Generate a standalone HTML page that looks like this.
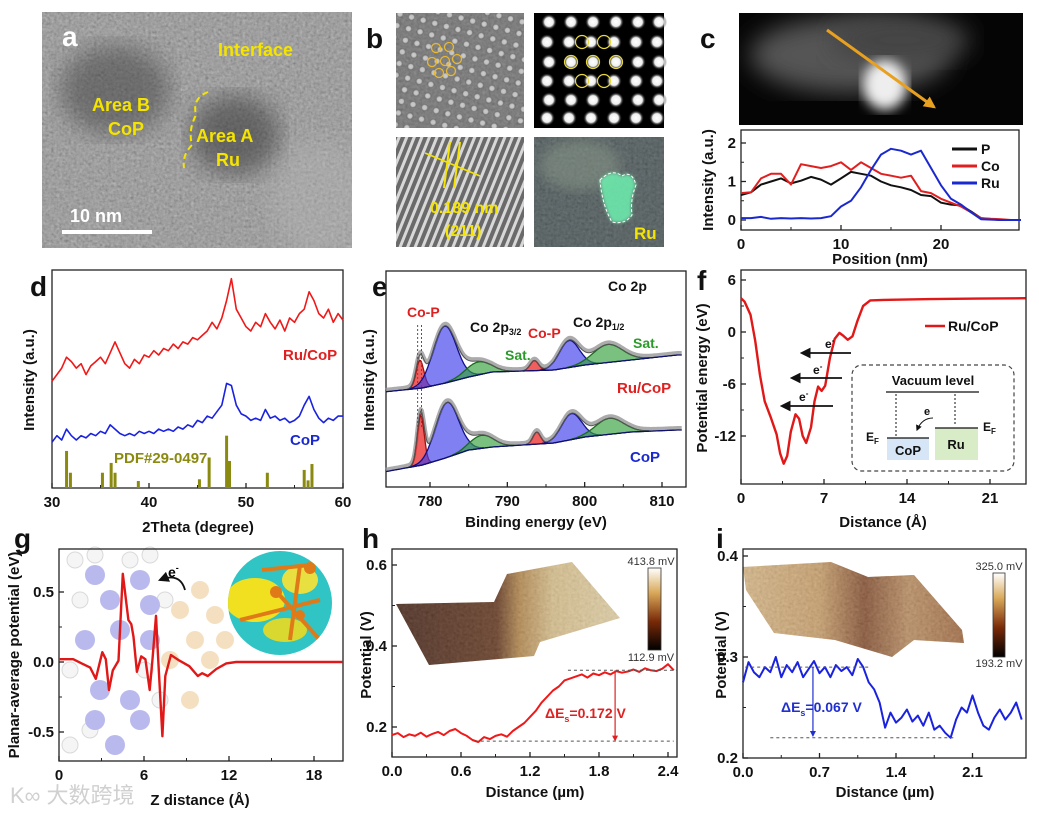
<!DOCTYPE html>
<html><head><meta charset="utf-8"><title>Ru/CoP characterization figure</title>
<style>
html,body{margin:0;padding:0;background:#fff;}
svg{display:block;font-family:"Liberation Sans","Noto Sans CJK SC",sans-serif;}
.tk{font-size:15px;font-weight:bold;fill:#111;}
.tt{font-size:15px;font-weight:bold;fill:#111;}
.pl{font-size:28px;font-weight:bold;fill:#111;}
</style></head>
<body>
<svg id="fig" xmlns="http://www.w3.org/2000/svg" width="1039" height="813" viewBox="0 0 1039 813">
<defs>
<filter id="noise" x="0" y="0" width="100%" height="100%"><feTurbulence type="fractalNoise" baseFrequency="0.35" numOctaves="2" seed="3"/><feColorMatrix type="matrix" values="0.33 0.33 0.33 0 0 0.33 0.33 0.33 0 0 0.33 0.33 0.33 0 0 0 0 0 0 1"/><feComposite in2="SourceGraphic" operator="in"/></filter>
<filter id="blur6"><feGaussianBlur stdDeviation="6"/></filter>
<filter id="blur12"><feGaussianBlur stdDeviation="12"/></filter>
<filter id="blur2"><feGaussianBlur stdDeviation="1.5"/></filter>
<radialGradient id="dot"><stop offset="0" stop-color="#fff"/><stop offset="0.55" stop-color="#eee"/><stop offset="1" stop-color="#000" stop-opacity="0"/></radialGradient>
<pattern id="dotsA" width="12" height="12" patternUnits="userSpaceOnUse" patternTransform="rotate(15)"><circle cx="6" cy="6" r="4" fill="url(#dot)" opacity="0.6"/></pattern>
<pattern id="stripes" width="7" height="7" patternUnits="userSpaceOnUse" patternTransform="rotate(22)"><rect width="7" height="7" fill="#6a6a6a"/><rect width="3" height="7" fill="#d8d8d8"/></pattern>
<linearGradient id="hsurf" x1="0" x2="1" y1="0" y2="0"><stop offset="0" stop-color="#3a1608"/><stop offset="0.45" stop-color="#5a2a10"/><stop offset="0.55" stop-color="#b08040"/><stop offset="0.7" stop-color="#d8bd85"/><stop offset="1" stop-color="#e2cfa0"/></linearGradient>
<linearGradient id="isurf" x1="0" x2="1" y1="0" y2="0"><stop offset="0" stop-color="#d9b37a"/><stop offset="0.35" stop-color="#c8975a"/><stop offset="0.55" stop-color="#7a3c18"/><stop offset="0.75" stop-color="#b88450"/><stop offset="1" stop-color="#9a5a2a"/></linearGradient>
<linearGradient id="cbar" x1="0" x2="0" y1="0" y2="1"><stop offset="0" stop-color="#fff"/><stop offset="0.3" stop-color="#d9a95a"/><stop offset="0.65" stop-color="#7a2a08"/><stop offset="1" stop-color="#000"/></linearGradient>
<clipPath id="gInsetClip"><circle cx="280" cy="603" r="52"/></clipPath>
<clipPath id="aClip"><rect x="42" y="12" width="310" height="236"/></clipPath>
<clipPath id="cClip"><rect x="739" y="13" width="284" height="112"/></clipPath>
<clipPath id="b4Clip"><rect x="534" y="137" width="130" height="110"/></clipPath>
<marker id="ah" viewBox="0 0 10 10" refX="8" refY="5" markerWidth="6" markerHeight="6" orient="auto"><path d="M0,0 L10,5 L0,10 z" fill="#111"/></marker>
<marker id="ahO" viewBox="0 0 10 10" refX="8" refY="5" markerWidth="4" markerHeight="4" orient="auto"><path d="M0,0 L10,5 L0,10 z" fill="#e8a020"/></marker>
<marker id="ahR" viewBox="0 0 10 10" refX="8" refY="5" markerWidth="5" markerHeight="5" orient="auto"><path d="M0,0 L10,5 L0,10 z" fill="#e02020"/></marker>
<marker id="ahB" viewBox="0 0 10 10" refX="8" refY="5" markerWidth="5" markerHeight="5" orient="auto"><path d="M0,0 L10,5 L0,10 z" fill="#2030d0"/></marker>
</defs>

<!-- Panel a -->
<g>
<g clip-path="url(#aClip)">
<rect x="42" y="12" width="310" height="236" fill="#7d7d7d"/>
<rect x="42" y="12" width="310" height="236" filter="url(#noise)" opacity="0.55"/>
<ellipse cx="115" cy="90" rx="55" ry="45" fill="#333" opacity="0.45" filter="url(#blur12)"/>
<ellipse cx="235" cy="135" rx="45" ry="40" fill="#2a2a2a" opacity="0.5" filter="url(#blur12)"/>
<ellipse cx="320" cy="200" rx="50" ry="60" fill="#bbb" opacity="0.35" filter="url(#blur12)"/>
</g>
<path d="M208,92 Q192,98 196,115 Q188,130 192,145 Q182,155 184,168" fill="none" stroke="#f5e400" stroke-width="2" stroke-dasharray="6,4"/>
<text x="218" y="56" font-size="18" font-weight="bold" fill="#f5e400">Interface</text>
<text x="92" y="111" font-size="18" font-weight="bold" fill="#f5e400">Area B</text>
<text x="108" y="135" font-size="18" font-weight="bold" fill="#f5e400">CoP</text>
<text x="196" y="142" font-size="18" font-weight="bold" fill="#f5e400">Area A</text>
<text x="216" y="166" font-size="18" font-weight="bold" fill="#f5e400">Ru</text>
<line x1="62" y1="232" x2="152" y2="232" stroke="#fff" stroke-width="4"/>
<text x="70" y="222" font-size="18" font-weight="bold" fill="#fff">10 nm</text>
<text x="62" y="46" font-size="28" font-weight="bold" fill="#fff">a</text>
</g>

<!-- Panel b -->
<g>
<text x="366" y="48" class="pl">b</text>
<rect x="396" y="13" width="128" height="115" fill="#5e5e5e"/>
<rect x="396" y="13" width="128" height="115" filter="url(#noise)" opacity="0.35"/>
<rect x="396" y="13" width="128" height="115" fill="url(#dotsA)"/>
<g id="ringsB1" fill="none" stroke="#e8b830" stroke-width="1.3"></g>
<rect x="534" y="13" width="130" height="115" fill="#000"/>
<g id="dotsB2"></g>
<rect x="396" y="137" width="128" height="110" fill="url(#stripes)"/>
<line x1="425" y1="153" x2="480" y2="176" stroke="#f5e400" stroke-width="1.5"/>
<line x1="450" y1="142" x2="444" y2="188" stroke="#f5e400" stroke-width="2"/>
<line x1="460" y1="142" x2="454" y2="188" stroke="#f5e400" stroke-width="2"/>
<text x="430" y="213" font-size="16" font-weight="bold" fill="#f5e400">0.189 nm</text>
<text x="445" y="236" font-size="16" font-weight="bold" fill="#f5e400">(211)</text>
<g clip-path="url(#b4Clip)">
<rect x="534" y="137" width="130" height="110" fill="#2c3a3c"/>
<rect x="534" y="137" width="130" height="110" filter="url(#noise)" opacity="0.35"/>
<ellipse cx="580" cy="165" rx="40" ry="25" fill="#8a9a8a" opacity="0.5" filter="url(#blur6)"/>
</g>
<path d="M600,180 Q612,168 622,176 Q632,170 636,185 Q630,200 632,215 Q625,225 612,222 Q602,205 600,180z" fill="#6ef0b0" opacity="0.85" filter="url(#blur2)"/>
<path d="M600,180 Q612,168 622,176 Q632,170 636,185 Q630,200 632,215 Q625,225 612,222 Q602,205 600,180z" fill="none" stroke="#fff" stroke-dasharray="3,2" stroke-width="1"/>
<text x="634" y="239" font-size="17" font-weight="bold" fill="#f5e400">Ru</text>
</g>

<!-- Panel c image -->
<g>
<text x="700" y="48" class="pl">c</text>
<g clip-path="url(#cClip)">
<rect x="739" y="13" width="284" height="112" fill="#050505"/>
<ellipse cx="850" cy="55" rx="100" ry="38" fill="#555" filter="url(#blur12)"/>
<ellipse cx="900" cy="40" rx="70" ry="25" fill="#444" filter="url(#blur12)"/>
<ellipse cx="885" cy="85" rx="22" ry="25" fill="#eee" filter="url(#blur6)"/>
</g>
<line x1="827" y1="30" x2="934" y2="107" stroke="#e8a020" stroke-width="3" marker-end="url(#ahO)"/>
</g>

<text x="30" y="296" class="pl">d</text>
<text x="372" y="296" class="pl">e</text>
<text x="697" y="290" class="pl">f</text>
<text x="14" y="548" class="pl">g</text>
<text x="362" y="548" class="pl">h</text>
<text x="716" y="548" class="pl">i</text>

<!-- axis titles -->
<text class="tt" font-size="14" transform="translate(713,180) rotate(-90)" text-anchor="middle">Intensity (a.u.)</text>
<text class="tt" x="880" y="264" text-anchor="middle">Position (nm)</text>
<text class="tt" transform="translate(34,380) rotate(-90)" text-anchor="middle">Intensity (a.u.)</text>
<text class="tt" x="198" y="532" text-anchor="middle">2Theta (degree)</text>
<text class="tt" transform="translate(374,380) rotate(-90)" text-anchor="middle">Intensity (a.u.)</text>
<text class="tt" x="536" y="527" text-anchor="middle">Binding energy (eV)</text>
<text class="tt" transform="translate(707,378) rotate(-90)" text-anchor="middle">Potential energy (eV)</text>
<text class="tt" x="883" y="527" text-anchor="middle">Distance (Å)</text>
<text class="tt" transform="translate(19,655) rotate(-90)" text-anchor="middle">Planar-average potential (eV)</text>
<text class="tt" x="200" y="805" text-anchor="middle">Z distance (Å)</text>
<text class="tt" transform="translate(371,655) rotate(-90)" text-anchor="middle">Potential (V)</text>
<text class="tt" x="535" y="797" text-anchor="middle">Distance (µm)</text>
<text class="tt" transform="translate(726,655) rotate(-90)" text-anchor="middle">Potential (V)</text>
<text class="tt" x="885" y="797" text-anchor="middle">Distance (µm)</text>

<!-- panel g background molecule -->
<g id="gMol" opacity="0.55"></g>
<g clip-path="url(#gInsetClip)">
<rect x="228" y="551" width="104" height="104" fill="#30c4c4"/>
<ellipse cx="255" cy="600" rx="30" ry="22" fill="#f0e020"/>
<ellipse cx="300" cy="580" rx="18" ry="14" fill="#e8e040"/>
<ellipse cx="285" cy="630" rx="22" ry="12" fill="#d8d830"/>
<line x1="262" y1="570" x2="310" y2="565" stroke="#e07a18" stroke-width="4"/>
<line x1="275" y1="590" x2="320" y2="640" stroke="#e07a18" stroke-width="4"/>
<line x1="300" y1="565" x2="290" y2="640" stroke="#e07a18" stroke-width="4"/>
<line x1="240" y1="620" x2="320" y2="600" stroke="#e07a18" stroke-width="4"/>
<circle cx="276" cy="592" r="6" fill="#e07a18"/><circle cx="310" cy="568" r="6" fill="#e07a18"/><circle cx="300" cy="615" r="5" fill="#e07a18"/>
</g>
<path d="M185,590 Q180,572 160,580" fill="none" stroke="#111" stroke-width="1.8" marker-end="url(#ah)"/>
<text x="168" y="577" font-size="14" font-weight="bold">e<tspan font-size="9" dy="-6">-</tspan></text>

<!-- h surface -->
<g>
<polygon points="396,604 494,602 507,574 572,562 620,618 540,642 534,656 429,665" fill="url(#hsurf)"/>
<polygon points="396,604 494,602 507,574 572,562 620,618 540,642 534,656 429,665" filter="url(#noise)" opacity="0.25"/>
<rect x="648" y="568" width="13" height="82" fill="url(#cbar)" stroke="#333" stroke-width="0.8"/>
<text x="651" y="565" font-size="11" text-anchor="middle" fill="#333">413.8 mV</text>
<text x="651" y="661" font-size="11" text-anchor="middle" fill="#333">112.9 mV</text>
</g>
<!-- i surface -->
<g>
<polygon points="746,590 743,567 831,562 868,577 914,575 962,630 964,643 914,640 892,657 835,640 774,633" fill="url(#isurf)"/>
<polygon points="746,590 743,567 831,562 868,577 914,575 962,630 964,643 914,640 892,657 835,640 774,633" filter="url(#noise)" opacity="0.3"/>
<rect x="993" y="573" width="12" height="84" fill="url(#cbar)" stroke="#333" stroke-width="0.8"/>
<text x="999" y="570" font-size="11" text-anchor="middle" fill="#333">325.0 mV</text>
<text x="999" y="667" font-size="11" text-anchor="middle" fill="#333">193.2 mV</text>
</g>

<text x="10" y="803" font-size="22" fill="#d0d0d0" font-family="'Liberation Sans','Noto Sans CJK SC',sans-serif">K∞ 大数跨境</text>

<g id="plots"></g>
</svg>

<script>
// ---------- Panel c data ----------
const cX = [0,1,2,3,4,5,6,7,8,9,10,11,12,13,14,15,16,17,18,19,20,21,22,23,24,25,26,27,28];
const cP = [0.65,0.72,0.92,1.0,1.08,0.95,1.02,1.12,1.05,0.92,1.08,1.25,1.2,1.15,1.0,0.9,0.85,0.78,0.65,0.62,0.45,0.4,0.38,0.22,0.05,0.02,0.0,0.0,0.0];
const cCo = [0.7,0.72,1.08,1.2,1.2,0.92,1.45,1.4,1.35,1.4,1.5,1.3,1.5,1.35,1.2,1.15,1.1,1.15,0.75,0.7,0.55,0.45,0.35,0.2,0.05,0.03,0.02,0.0,0.0];
const cRu = [0.05,0.05,0.08,0.03,0.05,0.04,0.05,0.04,0.05,0.1,0.35,0.5,0.85,1.3,1.7,1.85,1.8,1.7,1.8,1.35,0.9,0.55,0.4,0.2,0.02,0.01,0.0,0.0,0.0];
const cXTicks = [0,10,20];
const cYTicks = [0,1,2];
// ---------- Panel d data ----------
const dX = [30,30.5,31,31.5,32,32.5,33,33.5,34,34.5,35,35.5,36,36.5,37,37.5,38,38.5,39,39.5,40,40.5,41,41.5,42,42.5,43,43.5,44,44.5,45,45.5,46,46.5,47,47.5,48,48.5,49,49.5,50,50.5,51,51.5,52,52.5,53,53.5,54,54.5,55,55.5,56,56.5,57,57.5,58,58.5,59,59.5,60];
const dRuCoP = [49,52,55,60,58,55,57,52,56,58,60,57,62,67,62,57,55,59,57,61,60,63,61,64,63,66,64,67,66,69,68,70,72,76,73,78,86,96,82,78,74,72,76,74,80,76,73,77,72,78,76,80,82,90,86,80,78,82,76,80,77];
const dCoP = [21,24,22,27,24,22,24,23,25,24,26,25,29,27,25,24,25,24,26,25,26,25,27,26,27,26,28,27,29,28,31,30,33,32,35,38,48,47,38,34,33,31,32,31,36,32,33,31,32,30,31,33,38,42,36,32,30,32,31,33,33];
const dRefPos = [31.5,31.9,35.2,36.1,36.5,38.9,45.2,46.2,48.0,48.3,52.2,56.0,56.4,56.8];
const dRefInt = [17,7,7,11.5,7,3.2,4,14,24,12.4,7,8.3,3.5,11];
const dXTicks = [30,40,50,60];
// ---------- Panel e data ----------
const eBaseX = [774,779,782,785,788,792,796,800,806,812];
const eTopBase = [95,99,104,110,115,116,117,122,127,132];
const eBotBase = [15,22,29,37,40,42,44,50,55,57];
const eTopCenters = [778.7,781.9,786.2,793.5,798.0,803.0];
const eTopHeights = [28,57,13,10,27,18];
const eTopWidths = [0.5,1.5,1.6,0.55,1.3,1.9];
const eBotCenters = [778.8,782.2,786.7,793.8,798.3,803.2];
const eBotHeights = [50,55,13,12,26,16];
const eBotWidths = [0.45,1.5,1.5,0.5,1.3,1.8];
const ePeakKinds = ['r','b','g','r','b','g'];
const eXTicks = [780,790,800,810];
// ---------- Panel f data ----------
const fX = [0,0.3,0.8,1.2,1.6,2,2.5,3,3.3,3.6,3.9,4.2,4.6,4.9,5.2,5.5,5.9,6.2,6.5,6.8,7.1,7.5,7.9,8.3,8.6,9.0,9.4,9.8,10.3,10.9,12,16,20,24];
const fV = [3.9,3.5,2,-1,-5,-8,-9.8,-11.8,-14,-15.2,-14.3,-11.5,-9.5,-10,-12,-12.8,-11,-8,-6.3,-6.8,-6.2,-3,-0.8,-0.1,-0.4,-0.9,-0.5,1.2,3.0,3.65,3.7,3.8,3.85,3.9];
const fXTicks = [0,7,14,21];
const fYTicks = [6,0,-6,-12];
// ---------- Panel g data ----------
const gX = [0,1.0,1.6,2.2,2.6,3.06,3.3,3.53,3.8,4.2,4.5,4.9,5.1,5.26,5.5,5.8,6.1,6.4,6.6,6.85,7.0,7.3,7.5,7.9,8.5,9.2,9.8,10.1,10.5,11.1,11.8,12.5,20];
const gV = [0.02,0.02,-0.01,-0.04,-0.12,0.07,0.02,-0.2,-0.06,0.01,0.63,0.3,0.27,0.18,-0.07,0.04,0.02,-0.2,0.02,0.33,0.02,-0.53,-0.1,0.05,0.01,-0.03,-0.1,-0.08,-0.1,-0.05,-0.01,0,0];
const gXTicks = [0,6,12,18];
const gYTicks = [0.5,0.0,-0.5];
// ---------- Panel h data ----------
const hX = [0,0.05,0.1,0.15,0.2,0.25,0.3,0.35,0.4,0.45,0.5,0.55,0.6,0.65,0.7,0.75,0.8,0.85,0.9,0.95,1.0,1.05,1.1,1.15,1.2,1.25,1.3,1.35,1.4,1.45,1.5,1.55,1.6,1.65,1.7,1.75,1.8,1.85,1.9,1.95,2.0,2.05,2.1,2.15,2.2,2.25,2.3,2.35,2.4,2.45];
const hV = [0.18,0.185,0.175,0.182,0.178,0.186,0.176,0.183,0.188,0.18,0.19,0.195,0.185,0.178,0.168,0.163,0.175,0.17,0.178,0.182,0.176,0.19,0.2,0.21,0.225,0.24,0.26,0.275,0.29,0.3,0.315,0.32,0.325,0.33,0.322,0.332,0.328,0.335,0.33,0.338,0.334,0.337,0.342,0.336,0.345,0.34,0.338,0.344,0.355,0.34];
const hXTicks = [0.0,0.6,1.2,1.8,2.4];
const hYTicks = [0.2,0.4,0.6];
// ---------- Panel i data ----------
const iX = [0,0.05,0.1,0.15,0.2,0.25,0.3,0.35,0.4,0.45,0.5,0.55,0.6,0.65,0.7,0.75,0.8,0.85,0.9,0.95,1.0,1.05,1.1,1.15,1.2,1.25,1.3,1.35,1.4,1.45,1.5,1.55,1.6,1.65,1.7,1.75,1.8,1.85,1.9,1.95,2.0,2.05,2.1,2.15,2.2,2.25,2.3,2.35,2.4,2.45,2.5,2.55];
const iV = [0.275,0.295,0.285,0.28,0.29,0.285,0.3,0.28,0.292,0.285,0.295,0.28,0.288,0.296,0.284,0.29,0.28,0.292,0.286,0.29,0.282,0.298,0.29,0.275,0.268,0.255,0.23,0.245,0.235,0.24,0.248,0.236,0.242,0.232,0.245,0.228,0.232,0.225,0.22,0.238,0.25,0.245,0.262,0.245,0.232,0.228,0.24,0.248,0.238,0.245,0.255,0.238];
const iXTicks = [0.0,0.7,1.4,2.1];
const iYTicks = [0.2,0.3,0.4];

const NS = 'http://www.w3.org/2000/svg';
const root = document.getElementById('plots');
function mk(tag, attrs, parent){
  const el = document.createElementNS(NS, tag);
  for (const k in attrs) el.setAttribute(k, attrs[k]);
  (parent||root).appendChild(el);
  return el;
}
function lin(d0,d1,r0,r1){ return v => r0 + (v-d0)*(r1-r0)/(d1-d0); }
function pts(xs, ys, sx, sy){ return xs.map((x,i)=> sx(x).toFixed(1)+','+sy(ys[i]).toFixed(1)).join(' '); }
function fmt(v, dec){ return dec>0 ? v.toFixed(dec) : String(v); }
function line(pstr, color, w, name){
  const el = mk('polyline', {points:pstr, fill:'none', stroke:color, 'stroke-width':w, 'stroke-linejoin':'round'});
  
  
  return el;
}
function axes(prefix, x0,y0,x1,y1, sx, xt, xdec, sy, yt, ydec){
  const fr = mk('rect', {x:x0, y:y0, width:x1-x0, height:y1-y0, fill:'none', stroke:'#222', 'stroke-width':1.3});
  
  
  xt.forEach((v,i)=>{
    const x = sx(v);
    mk('line', {x1:x, y1:y1, x2:x, y2:y1-5, stroke:'#222', 'stroke-width':1.3});
    if (i < xt.length-1) { const xm = (x + sx(xt[i+1]))/2; mk('line', {x1:xm, y1:y1, x2:xm, y2:y1-3, stroke:'#222', 'stroke-width':1}); }
    const t = mk('text', {x:x, y:y1+19, 'text-anchor':'middle', class:'tk'});
    t.textContent = fmt(v, xdec);
    
    
  });
  if (yt) yt.forEach((v,i)=>{
    const y = sy(v);
    mk('line', {x1:x0, y1:y, x2:x0+5, y2:y, stroke:'#222', 'stroke-width':1.3});
    if (i < yt.length-1) { const ym = (y + sy(yt[i+1]))/2; mk('line', {x1:x0, y1:ym, x2:x0+3, y2:ym, stroke:'#222', 'stroke-width':1}); }
    const t = mk('text', {x:x0-5, y:y+5, 'text-anchor':'end', class:'tk'});
    t.textContent = fmt(v, ydec);
    
    
  });
}
function txt(x,y,s,color,size,name,anchor){
  const t = mk('text', {x:x, y:y, fill:color, 'font-size':size, 'font-weight':'bold', 'text-anchor':anchor||'start'});
  t.textContent = s;
  
  
  return t;
}

// ---- Panel b decorations ----
(function(){
  const r1 = document.getElementById('ringsB1');
  [[436,48],[449,47],[432,62],[445,61],[457,59],[439,73],[451,71]].forEach(p=>{ mk('circle',{cx:p[0],cy:p[1],r:4.5},r1); });
  const d2 = document.getElementById('dotsB2');
  const cols=[549,571,593,616,638,659], rows=[22,42,62,81,100,118];
  rows.forEach((y,ri)=>cols.forEach(x=>{ mk('circle',{cx:x+(ri%2?-2:0),cy:y,r:8,fill:'url(#dot)'},d2); }));
  [[582,42],[604,42],[571,62],[593,62],[616,62],[582,81],[604,81]].forEach(p=>{ mk('circle',{cx:p[0],cy:p[1],r:6.5,fill:'none',stroke:'#e8d840','stroke-width':1.2},d2); });
})();

// ---- Panel c ----
{
  const sx = lin(0,28,741,1021), sy = lin(0,2,220,143);
  axes('c', 741,130,1019,230, sx, cXTicks, 0, sy, cYTicks, 0);
  line(pts(cX,cP,sx,sy), '#111', 2, 'c-series-p');
  line(pts(cX,cCo,sx,sy), '#e02020', 2, 'c-series-co');
  line(pts(cX,cRu,sx,sy), '#1a28d0', 2, 'c-series-ru');
  [['P','#111',149],['Co','#e02020',166],['Ru','#1a28d0',183]].forEach(l=>{
    const ln = mk('line',{x1:952,y1:l[2],x2:977,y2:l[2],stroke:l[1],'stroke-width':3});
    
    
    txt(981,l[2]+5,l[0],'#111',14,'c-legend-entry');
  });
}

// ---- Panel d ----
{
  const sx = lin(30,60,52,343), sy = lin(0,100,488,270);
  axes('d', 52,270,343,488, sx, dXTicks, 0, null, null, 0);
  line(pts(dX,dRuCoP,sx,sy), '#f01818', 1.6, 'd-series-ru-cop');
  line(pts(dX,dCoP,sx,sy), '#1a22e0', 1.6, 'd-series-cop');
  dRefPos.forEach((p,i)=>{
    const b = mk('rect',{x:sx(p)-1.5, y:sy(dRefInt[i]), width:3, height:sy(0)-sy(dRefInt[i]), fill:'#8a8a10'});
    
    
  });
  txt(283,360,'Ru/CoP','#e02020',15,'d-label-ru-cop');
  txt(290,445,'CoP','#1a28d0',15,'d-label-cop');
  txt(114,463,'PDF#29-0497','#8a8a10',15,'d-label-pdf');
}

// ---- Panel e ----
{
  const sx = lin(780,810,430,662), sy = v => 487 - v;
  axes('e', 386,271,686,487, sx, eXTicks, 0, null, null, 0);
  const fills = {r:['rgba(235,40,40,0.75)','#a01010'], b:['rgba(60,60,235,0.65)','#10108a'], g:['rgba(50,160,60,0.65)','#1a6a1a']};
  function base(arr, x){
    for (let i=0;i<eBaseX.length-1;i++){ if (x<=eBaseX[i+1]) { const t=(x-eBaseX[i])/(eBaseX[i+1]-eBaseX[i]); return arr[i]+t*(arr[i+1]-arr[i]); } }
    return arr[arr.length-1];
  }
  function spectrum(prefix, B, C, H, W){
    const xs=[]; for (let x=774.3; x<=812.6; x+=0.15) xs.push(x);
    const env = xs.map(x=> base(B,x) + C.reduce((s,c,k)=> s + H[k]*Math.exp(-0.5*Math.pow((x-c)/W[k],2)), 0));
    line(pts(xs, env.map(v=>v+2), sx, sy), 'rgba(150,150,150,0.8)', 4, prefix+'-raw-data');
    C.forEach((c,k)=>{
      const px=[], py=[];
      xs.forEach(x=>{ const g=H[k]*Math.exp(-0.5*Math.pow((x-c)/W[k],2)); if (g>0.3){ px.push(x); py.push(base(B,x)+g);} });
      const top = pts(px,py,sx,sy);
      const bot = px.slice().reverse().map(x=> sx(x).toFixed(1)+','+sy(base(B,x)).toFixed(1)).join(' ');
      const p = mk('polygon',{points: top+' '+bot, fill:fills[ePeakKinds[k]][0], stroke:fills[ePeakKinds[k]][1], 'stroke-width':1.3});
      
      
    });
    line(pts(xs, env, sx, sy), '#555', 1, prefix+'-fit-envelope');
    line(pts(xs, xs.map(x=>base(B,x)), sx, sy), '#10106a', 1.3, prefix+'-baseline');
  }
  spectrum('e-ru-cop', eTopBase, eTopCenters, eTopHeights, eTopWidths);
  spectrum('e-cop', eBotBase, eBotCenters, eBotHeights, eBotWidths);
  [778.4,778.9].forEach(v=>{ const l=mk('line',{x1:sx(v),y1:325,x2:sx(v),y2:428,stroke:'#555','stroke-dasharray':'2,2','stroke-width':1});   });
  txt(608,291,'Co 2p','#111',14,'e-label-co2p');
  txt(407,317,'Co-P','#e02020',14,'e-label-cop-1');
  const a = txt(470,332,'Co 2p','#111',14,'e-label-co2p32'); const s1 = document.createElementNS(NS,'tspan'); s1.setAttribute('font-size','9'); s1.setAttribute('dy','3'); s1.textContent='3/2'; a.appendChild(s1);
  txt(528,338,'Co-P','#e02020',14,'e-label-cop-2');
  const b2 = txt(573,327,'Co 2p','#111',14,'e-label-co2p12'); const s2 = document.createElementNS(NS,'tspan'); s2.setAttribute('font-size','9'); s2.setAttribute('dy','3'); s2.textContent='1/2'; b2.appendChild(s2);
  txt(505,360,'Sat.','#2a9a2a',14,'e-label-sat-1');
  txt(633,348,'Sat.','#2a9a2a',14,'e-label-sat-2');
  txt(617,393,'Ru/CoP','#e02020',15,'e-label-ru-cop');
  txt(630,462,'CoP','#1a28d0',15,'e-label-cop');
}

// ---- Panel f ----
{
  const sx = lin(0,7,741,824), sy = lin(0,-12,332,436);
  axes('f', 741,270,1026,484, sx, fXTicks, 0, sy, fYTicks, 0);
  line(pts(fX,fV,sx,sy), '#e01818', 2.4, 'f-series-ru-cop');
  const lg = mk('line',{x1:925,y1:326,x2:945,y2:326,stroke:'#e01818','stroke-width':2.5});
  
  
  txt(948,331,'Ru/CoP','#111',14,'f-legend-entry');
  [[851,802,353,825,348],[842,792,378,813,374],[833,782,406,799,401]].forEach(a=>{
    const l = mk('line',{x1:a[0],y1:a[2],x2:a[1],y2:a[2],stroke:'#111','stroke-width':1.8,'marker-end':'url(#ah)'});
    
    
    const t = txt(a[3],a[4],'e','#111',12,'f-electron-label'); const sp=document.createElementNS(NS,'tspan'); sp.setAttribute('font-size','8'); sp.setAttribute('dy','-5'); sp.textContent='-'; t.appendChild(sp);
  });
  const box = mk('rect',{x:852,y:365,width:162,height:106,rx:10,fill:'none',stroke:'#444','stroke-dasharray':'4,3','stroke-width':1.2});
  
  
  txt(933,385,'Vacuum level','#111',13,'f-vacuum-level-label','middle');
  mk('line',{x1:886,y1:392,x2:979,y2:392,stroke:'#111','stroke-width':1.2});
  const cb = mk('rect',{x:887,y:438,width:42,height:22,fill:'#d6e6f6'});  
  const rb = mk('rect',{x:935,y:428,width:43,height:32,fill:'#d8ecc8'});  
  mk('line',{x1:887,y1:438,x2:929,y2:438,stroke:'#111','stroke-width':1.3});
  mk('line',{x1:935,y1:428,x2:978,y2:428,stroke:'#111','stroke-width':1.3});
  mk('line',{x1:896,y1:394,x2:896,y2:436,stroke:'#111','stroke-dasharray':'2,2'});
  mk('line',{x1:955,y1:394,x2:955,y2:426,stroke:'#111','stroke-dasharray':'2,2'});
  mk('path',{d:'M933,418 Q922,418 917,430',fill:'none',stroke:'#111','stroke-width':1,'marker-end':'url(#ah)'});
  txt(924,415,'e','#111',11,'f-inset-electron');
  txt(908,455,'CoP','#111',13,'f-cop-label','middle');
  txt(956,449,'Ru','#111',13,'f-ru-label','middle');
  const e1 = txt(866,441,'E','#111',12,'f-fermi-cop'); const s3=document.createElementNS(NS,'tspan'); s3.setAttribute('font-size','8'); s3.setAttribute('dy','3'); s3.textContent='F'; e1.appendChild(s3);
  const e2 = txt(983,431,'E','#111',12,'f-fermi-ru'); const s4=document.createElementNS(NS,'tspan'); s4.setAttribute('font-size','8'); s4.setAttribute('dy','3'); s4.textContent='F'; e2.appendChild(s4);
}

// ---- Panel g ----
{
  const mol = document.getElementById('gMol');
  const blues=[[95,575],[110,600],[140,580],[150,605],[85,640],[120,630],[100,690],[130,700],[95,720],[115,745],[140,720],[150,640]];
  const whites=[[75,560],[95,555],[130,560],[80,600],[70,670],[150,555],[90,730],[70,745],[160,700],[145,670],[165,600]];
  const tans=[[180,610],[200,590],[215,615],[195,640],[170,660],[210,660],[225,640],[190,700]];
  whites.forEach(p=>mk('circle',{cx:p[0],cy:p[1],r:8,fill:'#eee',stroke:'#bbb'},mol));
  blues.forEach(p=>mk('circle',{cx:p[0],cy:p[1],r:10,fill:'#8080e0'},mol));
  tans.forEach(p=>mk('circle',{cx:p[0],cy:p[1],r:9,fill:'#ecc890'},mol));
  const sx = lin(0,6,59,144), sy = lin(0,0.5,662,592);
  axes('g', 59,549,343,761, sx, gXTicks, 0, sy, gYTicks, 1);
  line(pts(gX,gV,sx,sy), '#e01818', 2.4, 'g-series-potential');
}

// ---- Panel h ----
{
  const sx = lin(0,0.6,392,461), sy = lin(0.2,0.6,727,565);
  axes('h', 392,549,677,757, sx, hXTicks, 1, sy, hYTicks, 1);
  line(pts(hX,hV,sx,sy), '#f01818', 2, 'h-series-potential');
  const d1 = mk('line',{x1:sx(0.72),y1:sy(0.165),x2:sx(2.45),y2:sy(0.165),stroke:'#555','stroke-dasharray':'3,3'});  
  const d2 = mk('line',{x1:sx(1.53),y1:sy(0.34),x2:sx(2.48),y2:sy(0.34),stroke:'#555','stroke-dasharray':'3,3'});  
  const ar = mk('line',{x1:sx(1.94),y1:sy(0.34),x2:sx(1.94),y2:sy(0.167),stroke:'#e02020','stroke-width':1.2,'marker-end':'url(#ahR)'});  
  const t = txt(545,718,'ΔE','#e02020',14,'h-delta-label'); const s=document.createElementNS(NS,'tspan'); s.setAttribute('font-size','9'); s.setAttribute('dy','4'); s.textContent='s'; t.appendChild(s); const s2=document.createElementNS(NS,'tspan'); s2.setAttribute('dy','-4'); s2.textContent='=0.172 V'; t.appendChild(s2);
}

// ---- Panel i ----
{
  const sx = lin(0,0.7,743,819.5), sy = lin(0.2,0.4,758,556);
  axes('i', 743,549,1026,758, sx, iXTicks, 1, sy, iYTicks, 1);
  line(pts(iX,iV,sx,sy), '#1a22e0', 2, 'i-series-potential');
  const d1 = mk('line',{x1:sx(0.25),y1:sy(0.22),x2:sx(1.93),y2:sy(0.22),stroke:'#555','stroke-dasharray':'3,3'});  
  const d2 = mk('line',{x1:sx(0.02),y1:sy(0.29),x2:sx(1.15),y2:sy(0.29),stroke:'#555','stroke-dasharray':'3,3'});  
  const ar = mk('line',{x1:sx(0.64),y1:sy(0.29),x2:sx(0.64),y2:sy(0.222),stroke:'#2030d0','stroke-width':1.2,'marker-end':'url(#ahB)'});  
  const t = txt(781,712,'ΔE','#2030d0',14,'i-delta-label'); const s=document.createElementNS(NS,'tspan'); s.setAttribute('font-size','9'); s.setAttribute('dy','4'); s.textContent='s'; t.appendChild(s); const s2=document.createElementNS(NS,'tspan'); s2.setAttribute('dy','-4'); s2.textContent='=0.067 V'; t.appendChild(s2);
}
</script>
</body></html>
